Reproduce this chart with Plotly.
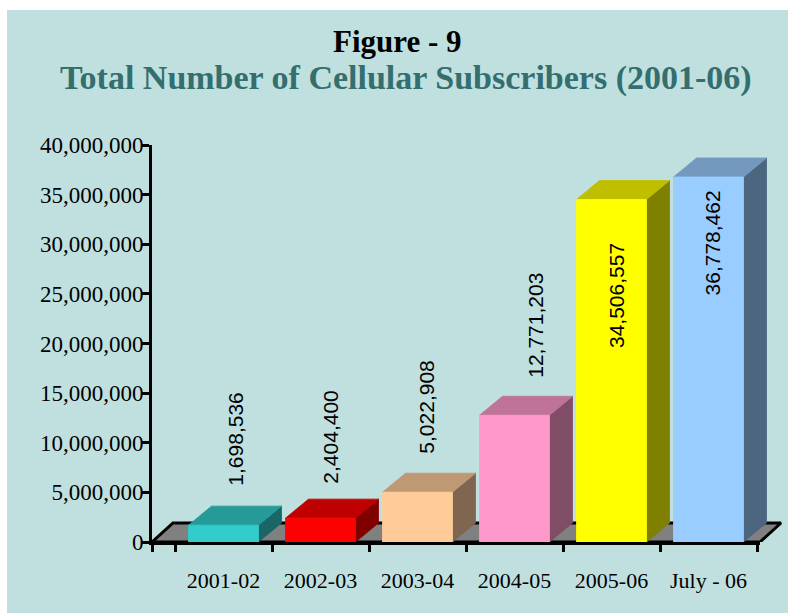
import plotly.graph_objects as go

# ---------------- data ----------------
categories = ["2001-02", "2002-03", "2003-04", "2004-05", "2005-06", "July - 06"]
subscribers = [1698536, 2404400, 5022908, 12771203, 34506557, 36778462]
y_tick_values = [0, 5000000, 10000000, 15000000, 20000000, 25000000, 30000000, 35000000, 40000000]

# ---------------- style ----------------
front_colors = ["#33CCCC", "#FF0000", "#FFCC99", "#FF99CC", "#FFFF00", "#99CCFF"]
top_colors = ["#269999", "#BF0000", "#BF9973", "#BF7399", "#BFBF00", "#7399BF"]
side_colors = ["#1A6666", "#800000", "#806650", "#804D66", "#808000", "#4D6680"]
label_dx_px = [12, 10, 9, 21, 5, 4]        # label offset from bar centre (px)
label_dy_px = [86, 81, 85, 90, -96, -66]   # label centre offset from bar front top (px)

BG = "#C0E0E0"
W, H = 788, 613
AX_L, AX_R, AX_T, AX_B = 152, 760, 145, 542
PX_PER_CAT = 97.0
FIRST_BOUND_PX = 175.0
YMAX = 40000000

X0 = -0.5 - (FIRST_BOUND_PX - AX_L) / PX_PER_CAT
X1 = X0 + (AX_R - AX_L) / PX_PER_CAT
X1_WIDE = X0 + (W - AX_L) / PX_PER_CAT
Y_PER_PX = YMAX / (AX_B - AX_T)

DEPTH_DX = 23 / PX_PER_CAT
DEPTH_DY = 19 * Y_PER_PX
FLOOR_DX = 21 / PX_PER_CAT
HALF_W = 35 / PX_PER_CAT

fig = go.Figure()


def poly(xs, ys, color, line_color=None, lw=0.8):
    fig.add_trace(go.Scatter(
        x=xs + [xs[0]], y=ys + [ys[0]], mode="lines", fill="toself",
        fillcolor=color, line=dict(color=line_color or color, width=lw),
        hoverinfo="skip", showlegend=False, xaxis="x", yaxis="y"))


# floor
poly([X0, X1, X1 + FLOOR_DX, X0 + FLOOR_DX], [0, 0, DEPTH_DY, DEPTH_DY], "#808080", "black", 3)

# bars
for i, v in enumerate(subscribers):
    xl, xr = i - HALF_W, i + HALF_W
    poly([xr, xr + DEPTH_DX, xr + DEPTH_DX, xr], [0, DEPTH_DY, v + DEPTH_DY, v], side_colors[i])
    poly([xl, xr, xr + DEPTH_DX, xl + DEPTH_DX], [v, v, v + DEPTH_DY, v + DEPTH_DY], top_colors[i])
    poly([xl, xr, xr, xl], [0, 0, v, v], front_colors[i])

# dummy trace for axis subplot
fig.add_trace(go.Scatter(x=[None], y=[None], xaxis="x2", yaxis="y2",
                         showlegend=False, hoverinfo="skip"))

annotations = []
for i, v in enumerate(subscribers):
    annotations.append(dict(
        x=i, y=v, xref="x", yref="y", text=f"{v:,}", textangle=-90,
        showarrow=False, xanchor="center", yanchor="middle",
        xshift=label_dx_px[i], yshift=label_dy_px[i],
        font=dict(family="Liberation Sans, Arial", size=21, color="black")))

annotations.append(dict(
    x=(W / 2 + 3) / W, y=1 - 41 / H, xref="paper", yref="paper",
    text="<b>Figure - 9</b>", showarrow=False, xanchor="center", yanchor="middle",
    font=dict(family="Liberation Serif, Times New Roman", size=31, color="black")))
annotations.append(dict(
    x=(W / 2 + 12) / W, y=1 - 78 / H, xref="paper", yref="paper",
    text="<b>Total Number of Cellular Subscribers (2001-06)</b>", showarrow=False,
    xanchor="center", yanchor="middle",
    font=dict(family="Liberation Serif, Times New Roman", size=34, color="#346E6E")))

dom_y = [1 - AX_B / H, 1 - AX_T / H]
ytick_font = dict(family="Liberation Serif, Times New Roman", size=23, color="black")
xtick_font = dict(family="Liberation Serif, Times New Roman", size=22, color="black")

fig.update_layout(
    width=W, height=H,
    margin=dict(l=0, r=0, t=0, b=0),
    paper_bgcolor="white",
    plot_bgcolor="rgba(0,0,0,0)",
    showlegend=False,
    annotations=annotations,
    shapes=[dict(type="rect", xref="paper", yref="paper", x0=7 / W, x1=1, y0=0, y1=1 - 10 / H,
                 fillcolor=BG, line=dict(width=0), layer="below")],
    xaxis=dict(domain=[AX_L / W, 1], range=[X0, X1_WIDE], visible=False,
               anchor="y", fixedrange=True),
    yaxis=dict(domain=dom_y, range=[0, YMAX], visible=False, anchor="x", fixedrange=True),
    xaxis2=dict(domain=[AX_L / W, AX_R / W], range=[X0, X1], anchor="y2",
                showline=True, linecolor="black", linewidth=3, showgrid=False,
                zeroline=False, tickmode="array", tickvals=list(range(len(categories))),
                ticktext=categories, ticks="outside", ticklen=17,
                tickcolor="rgba(0,0,0,0)", tickfont=xtick_font, automargin=False,
                minor=dict(tickmode="array",
                           tickvals=[X0] + [k - 0.5 for k in range(len(categories) + 1)],
                           ticks="outside", ticklen=7, tickwidth=3, tickcolor="black",
                           showgrid=False),
                fixedrange=True),
    yaxis2=dict(domain=dom_y, range=[0, YMAX], anchor="x2",
                showline=True, linecolor="black", linewidth=3, showgrid=False,
                zeroline=False, tickmode="array", tickvals=y_tick_values,
                tickformat=",d", ticks="outside", ticklen=1,
                tickcolor="rgba(0,0,0,0)", tickfont=ytick_font, automargin=False,
                minor=dict(tickmode="array", tickvals=y_tick_values,
                           ticks="outside", ticklen=7, tickwidth=3, tickcolor="black",
                           showgrid=False),
                fixedrange=True),
)

fig.write_html("out.html")
